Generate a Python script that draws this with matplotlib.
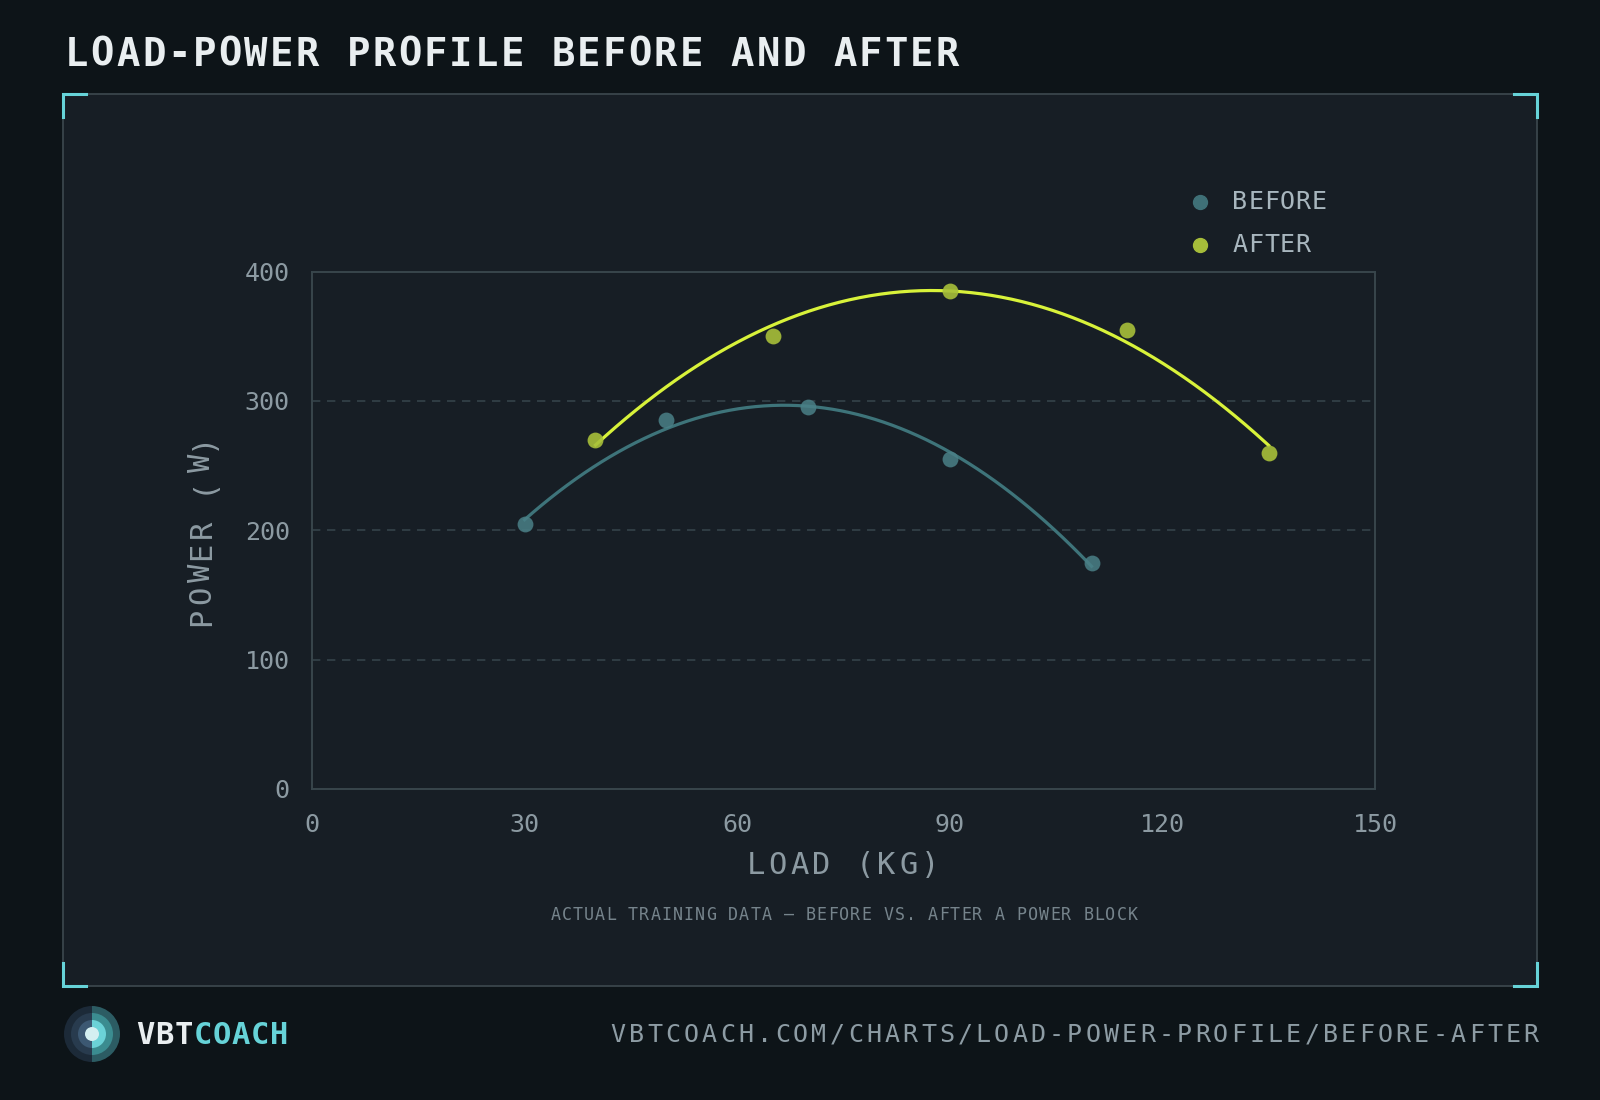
import matplotlib

matplotlib.use("Agg")

import matplotlib.pyplot as plt
import numpy as np
from matplotlib.lines import Line2D
from matplotlib.patches import Rectangle, Wedge, Circle


WIDTH, HEIGHT = 1600, 1100
MONO = "DejaVu Sans Mono"

BG_COLOR = "#0d1418"
PANEL_COLOR = "#171e25"
BORDER_COLOR = "#374248"
ACCENT = "#66d3d8"
TEXT_DIM = "#8c9aa2"
TEXT_LIGHT = "#a8b6be"

TITLE = "LOAD-POWER PROFILE BEFORE AND AFTER"
SUBTITLE = "ACTUAL TRAINING DATA \u2014 BEFORE VS. AFTER A POWER BLOCK"
URL = "VBTCOACH.COM/CHARTS/LOAD-POWER-PROFILE/BEFORE-AFTER"

X_TICKS = [0, 30, 60, 90, 120, 150]
Y_TICKS = [0, 100, 200, 300, 400]

BEFORE_LOAD = [30, 50, 70, 90, 110]
BEFORE_POWER = [205, 285, 295, 255, 175]
AFTER_LOAD = [40, 65, 90, 115, 135]
AFTER_POWER = [270, 350, 385, 355, 260]


def fx(x_px):
    return x_px / WIDTH


def fy(y_px):
    return 1 - y_px / HEIGHT


def spaced_text(figure, x_px, y_px, text, pitch, rotation=0, colors=None, **kwargs):
    # monospace text with extra letter spacing, centred on (x_px, y_px)
    start = -(len(text) - 1) / 2 * pitch
    for index, char in enumerate(text):
        offset = start + index * pitch
        color = colors[index] if colors else kwargs.get("color")
        options = {key: value for key, value in kwargs.items() if key != "color"}
        if rotation == 0:
            figure.text(fx(x_px + offset), fy(y_px), char, ha="center", va="center",
                        color=color, family=MONO, **options)
        else:
            figure.text(fx(x_px), fy(y_px - offset), char, ha="center", va="center",
                        rotation=rotation, color=color, family=MONO, **options)


def quad_fit(loads, powers):
    coefficients = np.polyfit(loads, powers, 2)
    fit_x = np.linspace(min(loads), max(loads), 200)
    return fit_x, np.polyval(coefficients, fit_x)


figure = plt.figure(figsize=(16, 11), dpi=100, facecolor=BG_COLOR)

# panel and corner brackets
figure.add_artist(Rectangle((fx(63), fy(986)), fx(1537) - fx(63), fy(94) - fy(986),
                            transform=figure.transFigure, facecolor=PANEL_COLOR,
                            edgecolor=BORDER_COLOR, linewidth=1.4, zorder=0))
bracket = 23
for corner_x, corner_y, dx, dy in [(63, 94, 1, 1), (1537, 94, -1, 1), (63, 986, 1, -1), (1537, 986, -1, -1)]:
    figure.add_artist(Line2D([fx(corner_x + dx * bracket), fx(corner_x), fx(corner_x)],
                             [fy(corner_y), fy(corner_y), fy(corner_y + dy * bracket)],
                             transform=figure.transFigure, color=ACCENT, linewidth=2.2,
                             solid_joinstyle="miter", zorder=1))

axis = figure.add_axes([fx(312), fy(789), fx(1375) - fx(312), fy(271.5) - fy(789)])
axis.set_facecolor(PANEL_COLOR)
for spine in axis.spines.values():
    spine.set_color("#38464c")
    spine.set_linewidth(1.4)

before_x, before_y = quad_fit(BEFORE_LOAD, BEFORE_POWER)
after_x, after_y = quad_fit(AFTER_LOAD, AFTER_POWER)
axis.plot(before_x, before_y, color="#3e747a", linewidth=2.3, zorder=3)
axis.plot(after_x, after_y, color="#d8f23a", linewidth=2.3, zorder=3)
axis.scatter(BEFORE_LOAD, BEFORE_POWER, s=130, color="#4a8087", alpha=0.85, linewidths=0, zorder=4)
axis.scatter(AFTER_LOAD, AFTER_POWER, s=130, color="#a8c03a", alpha=0.9, linewidths=0, zorder=4)

axis.set_xlim(X_TICKS[0], X_TICKS[-1])
axis.set_ylim(Y_TICKS[0], Y_TICKS[-1])
axis.set_xticks(X_TICKS)
axis.set_yticks(Y_TICKS)
axis.tick_params(length=0, labelsize=18, labelcolor=TEXT_DIM)
axis.tick_params(axis="x", pad=17)
axis.tick_params(axis="y", pad=16)
for label in axis.get_xticklabels() + axis.get_yticklabels():
    label.set_family(MONO)
for grid_value in Y_TICKS[1:-1]:
    axis.axhline(grid_value, color="#34434a", linewidth=1.2, linestyle=(0, (5, 4)), zorder=1)

# axis labels
spaced_text(figure, 843, 866, "LOAD (KG)", 21.75, fontsize=22, color=TEXT_DIM)
spaced_text(figure, 202, 529, "POWER (W)", 22, rotation=90, fontsize=22, color=TEXT_DIM)
spaced_text(figure, 844, 915, SUBTITLE, 11.1, fontsize=12, color="#76848c")

# legend
for legend_y, legend_name, legend_color in [(202, "BEFORE", "#3f7077"), (245, "AFTER", "#a6bd3a")]:
    figure.add_artist(Line2D([fx(1200)], [fy(legend_y)], marker="o", markersize=10,
                             color=legend_color, linestyle="none", transform=figure.transFigure))
    spaced_text(figure, 1240 + (len(legend_name) - 1) / 2 * 15.8, legend_y, legend_name, 15.8,
                fontsize=18, color=TEXT_LIGHT)

# title
spaced_text(figure, 512, 55, TITLE, 25.6, fontsize=28, fontweight="bold", color="#e9eef0")

# footer logo
logo = figure.add_axes([fx(64), fy(1062), fx(120) - fx(64), fy(1006) - fy(1062)])
logo.set_xlim(-1, 1)
logo.set_ylim(-1, 1)
logo.set_aspect("equal")
logo.axis("off")
left_colors = ["#1c2a38", "#283b4e", "#3c5872"]
right_colors = ["#2c5c63", "#3b8c90", "#6bd2d7"]
for radius, left_color, right_color in zip([1.0, 0.75, 0.5], left_colors, right_colors):
    logo.add_patch(Wedge((0, 0), radius, 90, 270, facecolor=left_color, linewidth=0))
    logo.add_patch(Wedge((0, 0), radius, -90, 90, facecolor=right_color, linewidth=0))
logo.add_patch(Circle((0, 0), 0.25, facecolor="#d4eff1", linewidth=0))

brand = "VBTCOACH"
spaced_text(figure, 212, 1035, brand, 19.1, fontsize=22, fontweight="bold",
            colors=["#e9eef0"] * 3 + [ACCENT] * 5)
spaced_text(figure, 1074.5, 1035, URL, 18.26, fontsize=18, color="#8d9ca4")

figure.savefig("out.png", dpi=100, facecolor=BG_COLOR)
